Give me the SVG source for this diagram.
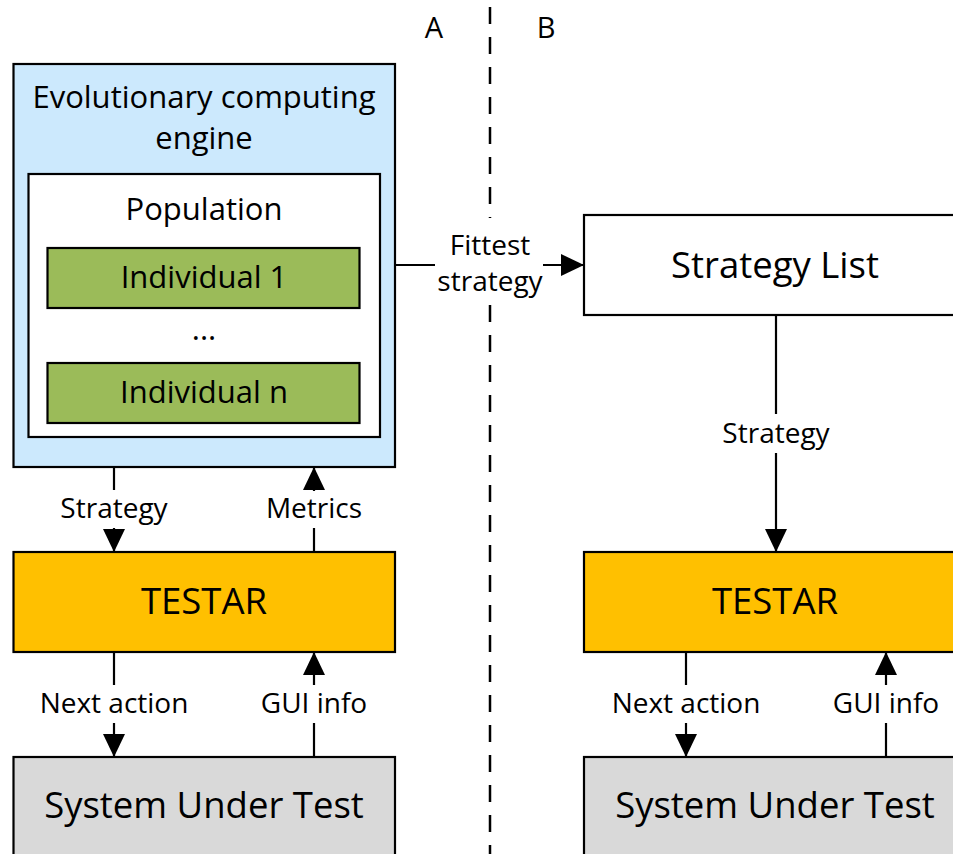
<svg xmlns="http://www.w3.org/2000/svg" width="953" height="854" viewBox="0 0 953 854">
<style>
text{font-family:"Open Sans","Noto Sans","Liberation Sans",sans-serif;fill:#000;text-anchor:middle}
.box{stroke:#000;stroke-width:2.2}
.lbl{font-size:28px}
.mid{font-size:31px}
.big{font-size:36.5px}
.conn{stroke:#000;stroke-width:2.2;fill:none}
</style>
<defs>
<marker id="ah" viewBox="0 0 23 22" refX="23" refY="11" markerWidth="23" markerHeight="22" markerUnits="userSpaceOnUse" orient="auto">
<path d="M0,0 L23,11 L0,22 z" fill="#000"/>
</marker>
</defs>
<rect width="953" height="854" fill="#fff"/>
<g id="divider">
<line x1="490" y1="7" x2="490" y2="218" stroke="#000" stroke-width="2.5" stroke-dasharray="17 13"/>
<line x1="490" y1="305" x2="490" y2="854" stroke="#000" stroke-width="2.5" stroke-dasharray="17 13"/>
<text x="434" y="38" style="font-size:29px">A</text>
<text x="546" y="38" style="font-size:29px">B</text>
</g>
<g id="engine">
<rect x="13.5" y="64" width="381.5" height="403" class="box" fill="#cce9fd"/>
<text x="204" y="108" class="mid">Evolutionary computing</text>
<text x="204" y="149" class="mid">engine</text>
</g>
<g id="population">
<rect x="28.5" y="174" width="351.5" height="263" class="box" fill="#fff"/>
<text x="204" y="220" class="mid">Population</text>
<text x="204" y="340" class="mid">...</text>
</g>
<g id="individual1">
<rect x="47.5" y="248" width="312" height="60" class="box" fill="#9bbb59"/>
<text x="204" y="288" class="mid">Individual 1</text>
</g>
<g id="individualn">
<rect x="47.5" y="363" width="312" height="60" class="box" fill="#9bbb59"/>
<text x="204" y="403" class="mid">Individual n</text>
</g>
<g id="testarA">
<rect x="13.5" y="552" width="381.5" height="100" class="box" fill="#ffc000"/>
<text x="204" y="614" class="big">TESTAR</text>
</g>
<g id="sutA">
<rect x="13.5" y="757" width="381.5" height="110" class="box" fill="#d9d9d9"/>
<text x="204" y="818" class="big">System Under Test</text>
</g>
<g id="strategyList">
<rect x="584" y="215" width="382" height="100" class="box" fill="#fff"/>
<text x="775" y="278" class="big">Strategy List</text>
</g>
<g id="testarB">
<rect x="584" y="552" width="382" height="100" class="box" fill="#ffc000"/>
<text x="775" y="614" class="big">TESTAR</text>
</g>
<g id="sutB">
<rect x="584" y="757" width="382" height="110" class="box" fill="#d9d9d9"/>
<text x="775" y="818" class="big">System Under Test</text>
</g>
<g id="connectors">
<line x1="395" y1="265" x2="435" y2="265" class="conn"/>
<line x1="543" y1="265" x2="584" y2="265" class="conn" marker-end="url(#ah)"/>
<text x="490" y="255" class="lbl">Fittest</text>
<text x="490" y="291" class="lbl">strategy</text>

<line x1="114" y1="467" x2="114" y2="490" class="conn"/>
<line x1="114" y1="528" x2="114" y2="552" class="conn" marker-end="url(#ah)"/>
<text x="114" y="518" class="lbl">Strategy</text>

<line x1="314" y1="552" x2="314" y2="528" class="conn"/>
<line x1="314" y1="491" x2="314" y2="467" class="conn" marker-end="url(#ah)"/>
<text x="314" y="518" class="lbl">Metrics</text>

<line x1="114" y1="652" x2="114" y2="685" class="conn"/>
<line x1="114" y1="723" x2="114" y2="757" class="conn" marker-end="url(#ah)"/>
<text x="114" y="713" class="lbl">Next action</text>

<line x1="314" y1="757" x2="314" y2="723" class="conn"/>
<line x1="314" y1="685" x2="314" y2="652" class="conn" marker-end="url(#ah)"/>
<text x="314" y="713" class="lbl">GUI info</text>

<line x1="776" y1="315" x2="776" y2="414" class="conn"/>
<line x1="776" y1="453" x2="776" y2="552" class="conn" marker-end="url(#ah)"/>
<text x="776" y="443" class="lbl">Strategy</text>

<line x1="686" y1="652" x2="686" y2="685" class="conn"/>
<line x1="686" y1="723" x2="686" y2="757" class="conn" marker-end="url(#ah)"/>
<text x="686" y="713" class="lbl">Next action</text>

<line x1="886" y1="757" x2="886" y2="723" class="conn"/>
<line x1="886" y1="685" x2="886" y2="652" class="conn" marker-end="url(#ah)"/>
<text x="886" y="713" class="lbl">GUI info</text>
</g>
</svg>
